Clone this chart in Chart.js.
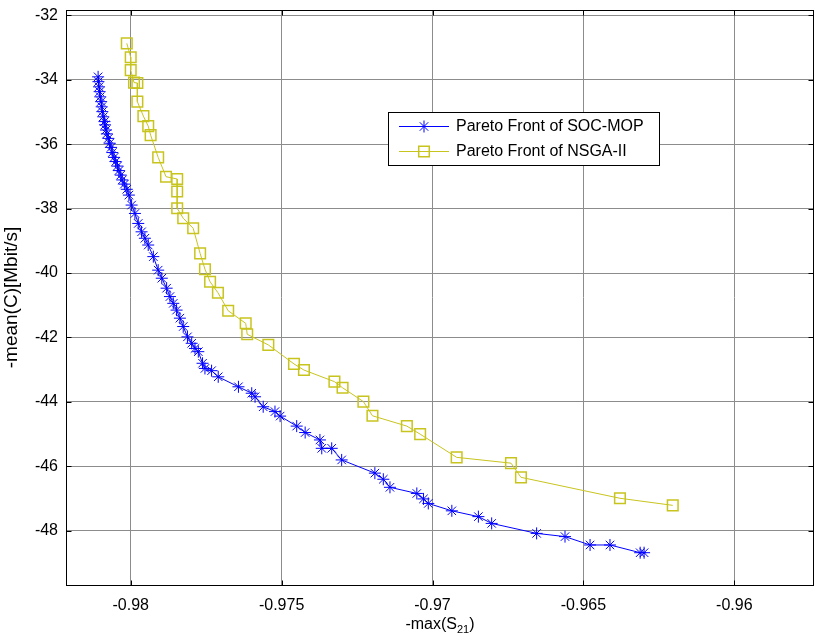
<!DOCTYPE html>
<html>
<head>
<meta charset="utf-8">
<title>Pareto fronts</title>
<script src="https://cdn.jsdelivr.net/npm/chart.js@4.4.1/dist/chart.umd.min.js"></script>
<style>
  html, body { margin: 0; padding: 0; background: #fff; }
  canvas { display: block; }
</style>
</head>
<body>
<canvas id="paretoChart" width="815" height="639"></canvas>
<script>
// Pareto front of SOC-MOP: -max(S21) vs -mean(C)
const socX = [
  -0.98108, -0.98107, -0.98105, -0.98103, -0.98101, -0.98098, -0.98096, -0.98094,
  -0.98091, -0.98087, -0.98085, -0.98082, -0.98079, -0.98074, -0.98070, -0.98065,
  -0.98061, -0.98055, -0.98050, -0.98044, -0.98039, -0.98033, -0.98028, -0.98021,
  -0.98013, -0.98006, -0.97997, -0.97986, -0.97975, -0.97964, -0.97953, -0.97942,
  -0.97925, -0.97909, -0.97897, -0.97881, -0.97870, -0.97859, -0.97848, -0.97837,
  -0.97826, -0.97812, -0.97798, -0.97787, -0.97776, -0.97762, -0.97754, -0.97732,
  -0.97710, -0.97643, -0.97599, -0.97588, -0.97561, -0.97522, -0.97505, -0.97450,
  -0.97422, -0.97373, -0.97367, -0.97334, -0.97301, -0.97191, -0.97163, -0.97141,
  -0.97052, -0.97030, -0.97014, -0.96936, -0.96848, -0.96804, -0.96655, -0.96561,
  -0.96478, -0.96412, -0.96312, -0.96299
];
const socY = [
  -33.91, -34.06, -34.22, -34.37, -34.53, -34.68, -34.84, -34.99,
  -35.15, -35.30, -35.40, -35.56, -35.68, -35.82, -35.97, -36.10,
  -36.26, -36.41, -36.54, -36.68, -36.82, -36.96, -37.11, -37.24,
  -37.40, -37.58, -37.89, -38.15, -38.46, -38.72, -38.92, -39.13,
  -39.49, -39.91, -40.16, -40.47, -40.73, -40.94, -41.15, -41.40,
  -41.66, -41.98, -42.18, -42.34, -42.44, -42.80, -42.96, -43.03,
  -43.22, -43.53, -43.73, -43.84, -44.15, -44.30, -44.44, -44.75,
  -44.95, -45.18, -45.44, -45.44, -45.80, -46.21, -46.40, -46.65,
  -46.84, -47.01, -47.15, -47.38, -47.56, -47.77, -48.08, -48.18,
  -48.44, -48.44, -48.68, -48.68
];

// Pareto front of NSGA-II
const nsgaX = [
  -0.98013, -0.98000, -0.98000, -0.97989, -0.97978, -0.97978, -0.97958, -0.97942,
  -0.97934, -0.97909, -0.97883, -0.97846, -0.97846, -0.97846, -0.97826, -0.97793,
  -0.97770, -0.97754, -0.97737, -0.97711, -0.97677, -0.97619, -0.97614, -0.97544,
  -0.97459, -0.97426, -0.97325, -0.97298, -0.97229, -0.97199, -0.97085, -0.97041,
  -0.96920, -0.96740, -0.96707, -0.96379, -0.96204
];
const nsgaY = [
  -32.87, -33.30, -33.70, -34.09, -34.10, -34.68, -35.13, -35.44,
  -35.72, -36.41, -37.01, -37.08, -37.47, -37.99, -38.30, -38.61,
  -39.39, -39.88, -40.27, -40.61, -41.17, -41.56, -41.90, -42.23,
  -42.82, -43.01, -43.37, -43.56, -43.99, -44.43, -44.75, -45.00,
  -45.72, -45.90, -46.34, -46.99, -47.21
];

const seriesNames = ['Pareto Front of SOC-MOP', 'Pareto Front of NSGA-II'];
const xTicks = [-0.98, -0.975, -0.97, -0.965, -0.96];
const yTicks = [-48, -46, -44, -42, -40, -38, -36, -34, -32];
const xRange = [-0.982144, -0.95736];
const yRange = [-49.682, -31.8355];

const FONT = '"Liberation Sans", Arial, Helvetica, sans-serif';
const BLUE = '#0000ff';
const YELLOW = '#c8c41e';

function toPoints(xs, ys) {
  return xs.map((x, i) => ({ x: x, y: ys[i] }));
}

// box around the axes plus inward tick marks on all four sides
const axesBox = {
  id: 'axesBox',
  afterDatasetsDraw(chart) {
    const { ctx, chartArea: a, scales } = chart;
    const len = 5;
    const L = Math.round(a.left) + 0.5, R = Math.round(a.right) - 0.5;
    const T = Math.round(a.top) + 0.5, B = Math.round(a.bottom) + 0.5;
    ctx.save();
    ctx.strokeStyle = '#000';
    ctx.lineWidth = 1;
    ctx.strokeRect(L, T, R - L, B - T);
    ctx.beginPath();
    xTicks.forEach(v => {
      const px = Math.round(scales.x.getPixelForValue(v)) + 0.5;
      ctx.moveTo(px, B); ctx.lineTo(px, B - len);
      ctx.moveTo(px, T); ctx.lineTo(px, T + len);
    });
    yTicks.forEach(v => {
      const py = Math.round(scales.y.getPixelForValue(v)) + 0.5;
      ctx.moveTo(L, py); ctx.lineTo(L + len, py);
      ctx.moveTo(R, py); ctx.lineTo(R - len, py);
    });
    ctx.stroke();

    // axis titles
    ctx.fillStyle = '#000';
    ctx.textBaseline = 'middle';
    ctx.font = '16px ' + FONT;
    const main = '-max(S', sub = '21', close = ')';
    const subFont = '11px ' + FONT;
    const w1 = ctx.measureText(main).width;
    const w3 = ctx.measureText(close).width;
    ctx.font = subFont;
    const w2 = ctx.measureText(sub).width;
    const cx = (a.left + a.right) / 2;
    const x0 = cx - (w1 + w2 + w3) / 2;
    const ty = 625;
    ctx.textAlign = 'left';
    ctx.font = '16px ' + FONT;
    ctx.fillText(main, x0, ty);
    ctx.font = subFont;
    ctx.fillText(sub, x0 + w1, ty + 5);
    ctx.font = '16px ' + FONT;
    ctx.fillText(close, x0 + w1 + w2, ty);

    ctx.translate(12, (a.top + a.bottom) / 2);
    ctx.rotate(-Math.PI / 2);
    ctx.textAlign = 'center';
    ctx.font = '19px ' + FONT;
    ctx.fillText('-mean(C)[Mbit/s]', 0, 0);
    ctx.restore();
  }
};

// legend box placed inside the plot
const insideLegend = {
  id: 'insideLegend',
  afterDraw(chart) {
    const ctx = chart.ctx;
    const left = 388.5, top = 112.5, w = 271, h = 53;
    ctx.save();
    ctx.fillStyle = '#fff';
    ctx.fillRect(left, top, w, h);
    ctx.strokeStyle = '#000';
    ctx.lineWidth = 1;
    ctx.strokeRect(left, top, w, h);
    ctx.font = '16px ' + FONT;
    ctx.textBaseline = 'middle';
    ctx.textAlign = 'left';
    chart.data.datasets.forEach((ds, i) => {
      const y = Math.round(top + 13.5 + i * 24.5) + 0.5;
      ctx.strokeStyle = ds.borderColor;
      ctx.lineWidth = 1;
      ctx.beginPath();
      ctx.moveTo(399, y);
      ctx.lineTo(449, y);
      ctx.stroke();
      ctx.fillStyle = 'rgba(0,0,0,0)';
      ctx.lineWidth = ds.pointBorderWidth;
      Chart.helpers.drawPoint(ctx, {
        pointStyle: ds.pointStyle,
        radius: ds.pointRadius,
        rotation: 0,
        borderWidth: ds.pointBorderWidth
      }, 424, y);
      ctx.fillStyle = '#000';
      ctx.fillText(ds.label, 456, y);
    });
    ctx.restore();
  }
};

const ctx = document.getElementById('paretoChart').getContext('2d');
new Chart(ctx, {
  type: 'scatter',
  data: {
    datasets: [
      {
        label: seriesNames[0],
        data: toPoints(socX, socY),
        showLine: true,
        borderColor: BLUE,
        backgroundColor: 'rgba(0,0,0,0)',
        borderWidth: 1,
        pointStyle: 'star',
        pointRadius: 6,
        pointBorderColor: BLUE,
        pointBorderWidth: 1,
        tension: 0
      },
      {
        label: seriesNames[1],
        data: toPoints(nsgaX, nsgaY),
        showLine: true,
        borderColor: YELLOW,
        backgroundColor: 'rgba(0,0,0,0)',
        borderWidth: 1,
        pointStyle: 'rect',
        pointRadius: 7.5,
        pointBorderColor: YELLOW,
        pointBorderWidth: 1.5,
        tension: 0
      }
    ]
  },
  options: {
    responsive: false,
    animation: false,
    layout: {
      autoPadding: false,
      padding: { top: 10, right: 1, left: 0, bottom: 0 }
    },
    plugins: {
      legend: { display: false },
      tooltip: { enabled: false }
    },
    scales: {
      x: {
        type: 'linear',
        min: xRange[0],
        max: xRange[1],
        afterBuildTicks: scale => { scale.ticks = xTicks.map(v => ({ value: v })); },
        afterFit: scale => {
          scale.height = 54;
          scale.paddingLeft = 0;
          scale.paddingRight = 0;
        },
        grid: { color: '#8c8c8c', lineWidth: 1, drawTicks: false },
        border: { display: false },
        ticks: {
          padding: 11,
          color: '#000',
          font: { family: FONT, size: 16 },
          maxRotation: 0,
          callback: v => String(v)
        }
      },
      y: {
        type: 'linear',
        min: yRange[0],
        max: yRange[1],
        afterBuildTicks: scale => { scale.ticks = yTicks.map(v => ({ value: v })); },
        afterFit: scale => {
          scale.width = 66;
          scale.paddingTop = 0;
          scale.paddingBottom = 0;
        },
        grid: { color: '#8c8c8c', lineWidth: 1, drawTicks: false },
        border: { display: false },
        ticks: {
          padding: 8,
          color: '#000',
          font: { family: FONT, size: 16 },
          callback: v => String(v)
        }
      }
    }
  },
  plugins: [axesBox, insideLegend]
});
</script>
</body>
</html>
